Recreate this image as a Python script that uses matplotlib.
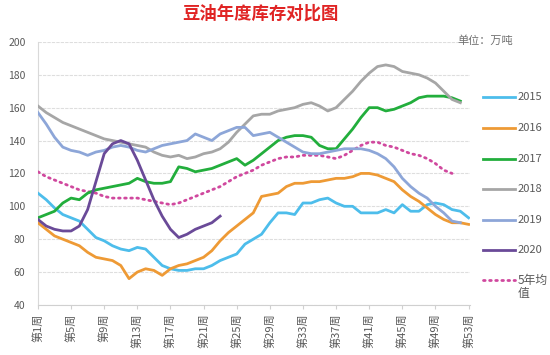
import matplotlib
matplotlib.use("Agg")
import matplotlib.pyplot as plt
from matplotlib.lines import Line2D

plt.rcParams['font.family'] = ['Noto Sans CJK SC', 'DejaVu Sans']

title = "豆油年度库存对比图"
unit_label = "单位：万吨"
series_names = ["2015", "2016", "2017", "2018", "2019", "2020", "5年均\n值"]

y2015 = [108, 104, 99, 95, 93, 91, 86, 81, 79, 76, 74, 73, 75, 74, 69, 64, 62, 61, 61, 62,
         62, 64, 67, 69, 71, 77, 80, 83, 90, 96, 96, 95, 102, 102, 104, 105, 102, 100, 100, 96,
         96, 96, 98, 96, 101, 97, 97, 101, 102, 101, 98, 97, 93]
y2016 = [90, 86, 82, 80, 78, 76, 72, 69, 68, 67, 64, 56, 60, 62, 61, 58, 62, 64, 65, 67,
         69, 73, 79, 84, 88, 92, 96, 106, 107, 108, 112, 114, 114, 115, 115, 116, 117, 117, 118, 120,
         120, 119, 117, 115, 110, 106, 103, 99, 95, 92, 90, 90, 89]
y2017 = [93, 95, 97, 102, 105, 104, 108, 110, 111, 112, 113, 114, 117, 115, 114, 114, 115, 124, 123, 121,
         122, 123, 125, 127, 129, 125, 128, 132, 136, 140, 142, 143, 143, 142, 137, 135, 135, 141, 147, 154,
         160, 160, 158, 159, 161, 163, 166, 167, 167, 167, 166, 164]
y2018 = [161, 157, 154, 151, 149, 147, 145, 143, 141, 140, 139, 138, 137, 136, 133, 131, 130, 131, 129, 130,
         132, 133, 135, 139, 145, 150, 155, 156, 156, 158, 159, 160, 162, 163, 161, 158, 160, 165, 170, 176,
         181, 185, 186, 185, 182, 181, 180, 178, 175, 170, 165, 163]
y2019 = [157, 150, 142, 136, 134, 133, 131, 133, 134, 136, 137, 136, 134, 133, 135, 137, 138, 139, 140, 144,
         142, 140, 144, 146, 148, 148, 143, 144, 145, 142, 139, 136, 133, 132, 132, 133, 134, 135, 135, 135,
         134, 132, 129, 124, 117, 112, 108, 105, 100, 96, 91, 90]
y2020 = [92, 88, 86, 85, 85, 88, 98, 115, 132, 138, 140, 138, 128, 116, 104, 94, 86, 81, 83, 86,
         88, 90, 94]
yavg = [121, 118, 116, 114, 112, 110, 109, 108, 106, 105, 105, 105, 105, 104, 103, 102, 101, 102, 104, 106,
        108, 110, 112, 115, 118, 120, 122, 125, 127, 129, 130, 130, 131, 131, 131, 130, 129, 131, 134, 137,
        139, 139, 137, 136, 134, 132, 131, 129, 126, 122, 120]

week_ticks = list(range(1, 54, 4))
week_labels = [f"第{w}周" for w in week_ticks]
y_ticks = [40, 60, 80, 100, 120, 140, 160, 180, 200]

colors = ["#4DBDEB", "#EE9A35", "#22AE3C", "#A6A6A6", "#8DA6D8", "#6A4A98", "#D0489E"]

fig = plt.figure(figsize=(5.5, 3.55), dpi=100)
ax = fig.add_axes([0.069, 0.141, 0.786, 0.741])

all_series = [y2015, y2016, y2017, y2018, y2019, y2020, yavg]
for i, ys in enumerate(all_series):
    xs = list(range(1, len(ys) + 1))
    if i == 6:
        ax.plot(xs, ys, color=colors[i], lw=2.0, linestyle=(0, (0.6, 1.6)),
                dash_capstyle='round', zorder=3)
    else:
        ax.plot(xs, ys, color=colors[i], lw=2.0, solid_joinstyle='round', zorder=3 + i * 0.1)

ax.set_xlim(1, 53.2)
ax.set_ylim(40, 200)
ax.set_yticks(y_ticks)
ax.set_yticklabels([str(v) for v in y_ticks], fontsize=7.5, color="#595959")
ax.set_xticks(week_ticks)
ax.set_xticklabels(week_labels, rotation=90, fontsize=8, color="#595959", va='top')
ax.tick_params(axis='y', length=0, pad=9)
ax.tick_params(axis='x', length=3, color="#D0D0D0", pad=3)
ax.grid(axis='y', color="#DEDEDE", lw=0.8, linestyle=(0, (3, 1)))
ax.set_axisbelow(True)
for s in ['top', 'right']:
    ax.spines[s].set_visible(False)
ax.spines['left'].set_color("#D9D9D9")
ax.spines['bottom'].set_color("#D0D0D0")

fig.text(0.473, 0.962, title, ha='center', va='center', fontsize=12.5,
         fontweight='bold', color="#E02424")
fig.text(0.832, 0.885, unit_label, ha='left', va='center', fontsize=8, color="#707070")

# legend
leg_y = [97, 128, 159, 189, 220, 250, 280]
for i, name in enumerate(series_names):
    yf = 1 - leg_y[i] / 355
    ls = (0, (0.6, 1.6)) if i == 6 else '-'
    fig.add_artist(Line2D([483 / 550, 515 / 550], [yf, yf], color=colors[i], lw=2.0,
                          linestyle=ls, dash_capstyle='round', transform=fig.transFigure))
    lines = name.split("\n")
    for k, part in enumerate(lines):
        fig.text(518 / 550, yf - k * 14 / 355, part, ha='left', va='center',
                 fontsize=8.5 if i == 6 else 8, color="#595959")

fig.savefig("out.png", dpi=100)
